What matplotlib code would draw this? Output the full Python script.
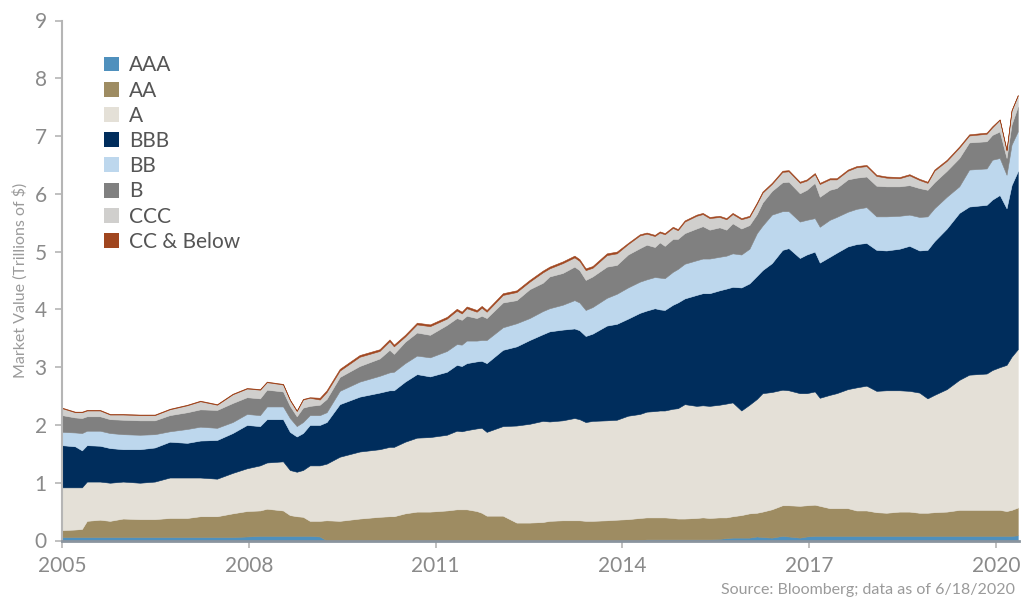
import matplotlib
matplotlib.use("Agg")
import matplotlib.pyplot as plt
from matplotlib.patches import Patch

# ---- data (decimal years, trillions of $) ----
dates = [2005.00, 2005.21, 2005.32, 2005.40, 2005.61, 2005.77, 2005.98, 2006.25, 2006.49, 2006.73,
         2007.01, 2007.22, 2007.49, 2007.74, 2007.97, 2008.18, 2008.29, 2008.55, 2008.66, 2008.77,
         2008.87, 2008.98, 2009.14, 2009.25, 2009.46, 2009.78, 2010.10, 2010.26, 2010.33, 2010.51,
         2010.70, 2010.91, 2011.18, 2011.34, 2011.42, 2011.50, 2011.66, 2011.74, 2011.82, 2012.08,
         2012.30, 2012.51, 2012.72, 2012.83, 2013.04, 2013.23, 2013.31, 2013.41, 2013.52, 2013.75,
         2013.91, 2014.09, 2014.28, 2014.39, 2014.52, 2014.60, 2014.68, 2014.81, 2014.89, 2015.00,
         2015.19, 2015.29, 2015.40, 2015.56, 2015.67, 2015.77, 2015.91, 2016.04, 2016.16, 2016.25,
         2016.40, 2016.57, 2016.67, 2016.85, 2016.96, 2017.09, 2017.17, 2017.33, 2017.44, 2017.62,
         2017.76, 2017.92, 2018.08, 2018.24, 2018.45, 2018.61, 2018.77, 2018.90, 2019.01, 2019.21,
         2019.41, 2019.57, 2019.85, 2019.94, 2020.06, 2020.17, 2020.25, 2020.35]

aaa = [.06, .06, .06, .06, .06, .06, .06, .06, .06, .06,
       .06, .06, .06, .06, .07, .08, .08, .08, .08, .08,
       .08, .08, .07, 0, 0, 0, 0, 0, 0, 0,
       0, 0, 0, 0, 0, 0, 0, 0, 0, 0,
       0, 0, 0, 0, 0, 0, 0, 0, 0, 0,
       0, .01, .01, .02, .02, .02, .02, .02, .02, .02,
       .02, .02, .02, .03, .04, .05, .05, .05, .07, .06,
       .05, .08, .07, .05, .07, .08, .08, .08, .08, .08,
       .08, .08, .08, .08, .08, .08, .08, .08, .08, .08,
       .08, .08, .08, .08, .08, .08, .08, .09]

aa = [.12, .13, .14, .28, .30, .28, .32, .31, .31, .33,
      .33, .36, .36, .41, .44, .44, .47, .44, .36, .34,
      .33, .26, .27, .35, .34, .38, .41, .42, .42, .47,
      .50, .50, .52, .54, .54, .54, .51, .48, .43, .43,
      .31, .31, .32, .34, .35, .35, .35, .34, .34, .35,
      .36, .36, .38, .38, .38, .38, .38, .37, .36, .36,
      .37, .38, .37, .37, .36, .37, .39, .42, .41, .44,
      .49, .53, .54, .55, .54, .54, .52, .48, .48, .48,
      .44, .44, .41, .40, .42, .42, .40, .40, .41, .42,
      .45, .45, .45, .45, .45, .43, .45, .48]

a = [.74, .73, .72, .68, .66, .66, .64, .63, .65, .70,
     .70, .67, .65, .70, .74, .78, .80, .85, .78, .77,
     .81, .96, .96, .98, 1.11, 1.16, 1.17, 1.20, 1.20, 1.24,
     1.28, 1.29, 1.31, 1.36, 1.35, 1.37, 1.43, 1.47, 1.45, 1.55,
     1.68, 1.71, 1.75, 1.72, 1.73, 1.77, 1.75, 1.71, 1.73, 1.73,
     1.73, 1.79, 1.80, 1.83, 1.84, 1.85, 1.85, 1.89, 1.91, 1.98,
     1.94, 1.94, 1.94, 1.95, 1.97, 1.97, 1.81, 1.88, 1.97, 2.05,
     2.03, 2.00, 1.99, 1.95, 1.94, 1.96, 1.87, 1.96, 1.99, 2.06,
     2.13, 2.16, 2.10, 2.12, 2.10, 2.09, 2.08, 1.98, 2.03, 2.12,
     2.25, 2.34, 2.36, 2.42, 2.47, 2.53, 2.65, 2.74]

bbb = [.73, .71, .64, .63, .62, .60, .56, .58, .59, .62,
       .60, .64, .67, .69, .75, .68, .75, .73, .66, .61,
       .64, .70, .70, .72, .91, .95, .98, .98, .98, 1.04,
       1.10, 1.05, 1.09, 1.14, 1.13, 1.16, 1.16, 1.16, 1.19, 1.32,
       1.37, 1.45, 1.50, 1.56, 1.57, 1.55, 1.54, 1.49, 1.51, 1.64,
       1.66, 1.68, 1.75, 1.75, 1.78, 1.75, 1.74, 1.80, 1.83, 1.83,
       1.92, 1.94, 1.95, 1.98, 1.99, 2.00, 2.13, 2.10, 2.13, 2.13,
       2.23, 2.42, 2.46, 2.34, 2.40, 2.42, 2.34, 2.39, 2.43, 2.47,
       2.48, 2.47, 2.44, 2.42, 2.45, 2.51, 2.46, 2.57, 2.66, 2.78,
       2.89, 2.91, 2.92, 2.95, 2.98, 2.71, 2.97, 3.08]

bb = [.23, .24, .30, .25, .26, .26, .26, .25, .23, .18,
      .24, .24, .21, .19, .19, .19, .22, .22, .24, .18,
      .19, .17, .17, .17, .23, .26, .29, .31, .32, .32,
      .32, .33, .36, .36, .37, .39, .36, .36, .40, .39,
      .40, .38, .40, .40, .43, .49, .48, .45, .46, .48,
      .52, .54, .54, .54, .54, .55, .55, .57, .58, .60,
      .60, .60, .60, .58, .57, .58, .57, .60, .74, .77,
      .84, .67, .64, .63, .60, .58, .62, .64, .62, .60,
      .61, .62, .58, .59, .57, .54, .58, .58, .57, .55,
      .46, .64, .63, .69, .64, .58, .70, .69]

b = [.29, .26, .26, .25, .25, .24, .25, .25, .24, .28,
     .29, .30, .31, .33, .29, .29, .29, .26, .21, .17,
     .25, .16, .18, .23, .24, .27, .30, .39, .31, .37,
     .40, .39, .45, .45, .43, .43, .39, .42, .38, .43,
     .40, .50, .49, .55, .55, .58, .56, .52, .53, .54,
     .50, .57, .58, .60, .52, .61, .56, .57, .52, .53,
     .55, .56, .50, .51, .45, .52, .45, .41, .33, .40,
     .41, .50, .51, .49, .52, .61, .52, .52, .50, .56,
     .54, .53, .53, .52, .51, .51, .50, .46, .45, .45,
     .49, .47, .47, .43, .46, .29, .35, .43]

ccc = [.12, .09, .10, .10, .10, .08, .09, .09, .09, .10,
       .12, .14, .09, .15, .15, .15, .13, .12, .10, .09,
       .14, .14, .09, .12, .11, .16, .13, .15, .13, .09,
       .14, .15, .11, .13, .11, .13, .11, .14, .11, .13,
       .14, .13, .18, .14, .17, .16, .16, .17, .15, .20,
       .20, .18, .22, .19, .19, .17, .20, .19, .15, .20,
       .22, .21, .20, .18, .18, .16, .16, .14, .18, .17,
       .12, .18, .18, .18, .16, .15, .22, .18, .15, .15,
       .18, .18, .17, .15, .14, .17, .14, .12, .20, .17,
       .18, .12, .13, .13, .20, .13, .24, .19]

cc_below = [.01, .01, .01, .01, .01, .01, .01, .01, .01, .01,
            .01, .01, .01, .01, .01, .01, .01, .01, .01, .01,
            .01, .01, .03, .03, .03, .03, .03, .03, .03, .03,
            .03, .03, .03, .03, .03, .03, .03, .03, .03, .03,
            .03, .03, .03, .03, .03, .03, .03, .03, .03, .03,
            .03, .02, .02, .02, .02, .02, .02, .02, .02, .02,
            .02, .02, .02, .02, .02, .02, .02, .02, .02, .02,
            .02, .02, .02, .02, .02, .02, .02, .02, .02, .02,
            .02, .02, .02, .02, .02, .02, .02, .02, .02, .02,
            .02, .02, .02, .02, .01, .01, .01, .01]

labels = ["AAA", "AA", "A", "BBB", "BB", "B", "CCC", "CC & Below"]
colors = ["#4f90bd", "#9e8c62", "#e4e0d7", "#002d5c", "#bdd7ed", "#808080", "#d0cfcd", "#a0461f"]
year_ticks = [2005, 2008, 2011, 2014, 2017, 2020]
value_ticks = list(range(0, 10))

plt.rcParams['font.family'] = ['Lato', 'DejaVu Sans']

fig = plt.figure(figsize=(10.21, 5.99), dpi=100)
ax = fig.add_axes([62 / 1021, (599 - 540.5) / 599, (1019 - 62) / 1021, (540.5 - 20.5) / 599])

series = [aaa, aa, a, bbb, bb, b, ccc, cc_below]
polys = ax.stackplot(dates, *series, colors=colors, labels=labels, linewidth=0.4)
for p, c in zip(polys, colors):
    p.set_edgecolor(c)

ax.set_xlim(2005, 2020.37)
ax.set_ylim(0, 9)
ax.set_xticks(year_ticks)
ax.set_xticklabels([str(y) for y in year_ticks])
ax.set_yticks(value_ticks)

for side in ("top", "right"):
    ax.spines[side].set_visible(False)
ax.spines["left"].set_color("#b5b5b5")
ax.spines["left"].set_linewidth(1.5)
ax.spines["bottom"].set_color("#8a949e")
ax.spines["bottom"].set_linewidth(2.0)
ax.spines["bottom"].set_zorder(5)

ax.tick_params(axis="both", colors="#b5b5b5", labelcolor="#8a8a8a", labelsize=15,
               length=5, width=1.2)
ax.tick_params(axis="x", pad=6)
ax.tick_params(axis="y", pad=6)

ax.set_ylabel("Market Value (Trillions of $)", color="#9a9a9a", fontsize=11.5)
ax.yaxis.set_label_coords((28 - 62) / 957, 0.5)

handles = [Patch(facecolor=c, edgecolor="none") for c in colors]
leg = fig.legend(handles, labels, loc="upper left", bbox_to_anchor=(96 / 1021, 1 - 47 / 599),
                 frameon=False, fontsize=15, handlelength=0.72, handleheight=0.72,
                 handletextpad=0.48, labelspacing=0.25, borderaxespad=0)
for t in leg.get_texts():
    t.set_color("#555555")

fig.text(1015 / 1021, 1 - 590 / 599, "Source: Bloomberg; data as of 6/18/2020",
         ha="right", va="center", fontsize=11.5, color="#9a9a9a")

fig.savefig("out.png", dpi=100)
